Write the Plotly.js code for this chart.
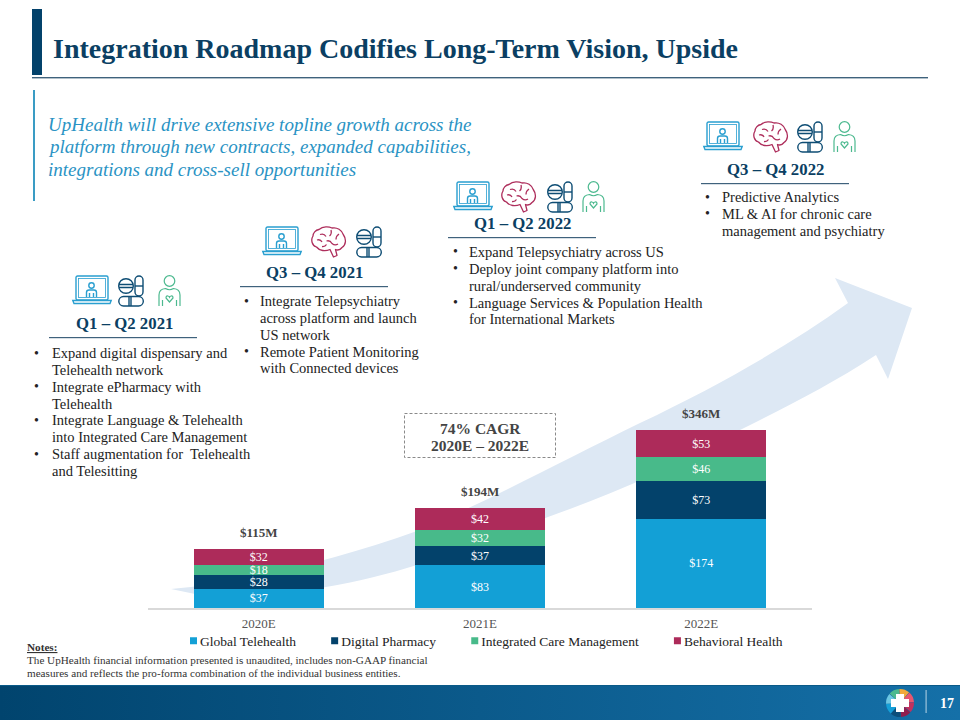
<!DOCTYPE html>
<html><head><meta charset="utf-8">
<script src="https://cdn.plot.ly/plotly-3.0.1.min.js"></script>
<style>
html,body{margin:0;padding:0;background:#fff;width:960px;height:720px;overflow:hidden}
#deco{position:absolute;left:0;top:0;z-index:0}
#chart{position:absolute;left:0;top:0;width:960px;height:720px;z-index:1}
</style></head><body>
<svg id="deco" width="960" height="720" viewBox="0 0 960 720"></svg>
<div id="chart"></div>
<script>
// ---- data ----
const years = ['2020E','2021E','2022E'];
const globalTelehealth = [37,83,174];
const digitalPharmacy = [28,37,73];
const integratedCare = [18,32,46];
const behavioralHealth = [32,42,53];
const totalLabels = ['$115M','$194M','$346M'];
const seriesNames = ['Global Telehealth','Digital Pharmacy','Integrated Care Management','Behavioral Health'];
const seriesColors = ['#13a0d6','#03426b','#48ba8a','#ad2b5a'];

const titleText = 'Integration Roadmap Codifies Long-Term Vision, Upside';
const introLines = ['UpHealth will drive extensive topline growth across the','platform through new contracts, expanded capabilities,','integrations and cross-sell opportunities'];
const noteLines = ['The UpHealth financial information presented is unaudited, includes non-GAAP financial','measures and reflects the pro-forma combination of the individual business entities.'];
const phaseLabels = ['Q1 – Q2 2021','Q3 – Q4 2021','Q1 – Q2 2022','Q3 – Q4 2022'];
const phaseLines = [
 [['•','Expand digital dispensary and'],['','Telehealth network'],['•','Integrate ePharmacy with'],['','Telehealth'],['•','Integrate Language & Telehealth'],['','into Integrated Care Management'],['•','Staff augmentation for  Telehealth'],['','and Telesitting']],
 [['•','Integrate Telepsychiatry'],['','across platform and launch'],['','US network'],['•','Remote Patient Monitoring'],['','with Connected devices']],
 [['•','Expand Telepsychiatry across US'],['•','Deploy joint company platform into'],['','rural/underserved community'],['•','Language Services & Population Health'],['','for International Markets']],
 [['•','Predictive Analytics'],['•','ML & AI for chronic care'],['','management and psychiatry']]
];
const cagrLines = ['74% CAGR','2020E – 2022E'];

// ---- layout geometry on the slide ----
const FONT = '"Liberation Serif", serif';
const W = 960, H = 720;
const fx = p => p / W, fy = p => 1 - p / H;
const phaseGeom = [
 {cx:124, ly:323, ux:[49,197],  bx:33,  tx:51,  y0:353, iconTop:275, icons:{laptop:72, pills:118, person:158}},
 {cx:314, ly:272, ux:[240,388], bx:243, tx:259, y0:301, iconTop:226, icons:{laptop:262, brain:311, pills:356}},
 {cx:522, ly:223, ux:[448,596], bx:452, tx:468, y0:252, iconTop:181, icons:{laptop:453, brain:501, pills:547, person:582}},
 {cx:775, ly:169, ux:[701,849], bx:704, tx:721, y0:197, iconTop:121, icons:{laptop:703, brain:753, pills:797, person:833}}
];

// ---- decoration (behind the transparent plot) ----
const iconSvg = {
 laptop:`<g fill="none" stroke="#2a9fd0" stroke-width="1.4"><rect x="4" y="1" width="32" height="24" rx="1.5"/><rect x="6.5" y="3.5" width="27" height="19" stroke-width=".8"/><path d="M0.8 25.5H39.2L38 28.5H2Z"/><circle cx="19.5" cy="10.5" r="2.7"/><path d="M14.5 22V17.5Q14.5 15 17 15H22Q24.5 15 24.5 17.5V22M17.5 18V22M21.5 18V22"/></g>`,
 brain:`<g fill="none" stroke="#ae2e5c" stroke-width="1.3" stroke-linejoin="round"><path d="M8 3.5C12 0 18 0.5 21 2C26 1 31 4 32.5 9C35.5 13 35 19 31 21.5C29.5 23.5 27 24.5 24.5 23.5L26 29.5L22.5 31L19 23.5C14.5 25.5 8.5 25 5.5 21C1 19.5 -0.5 14 2 10C2 7 4.5 4 8 3.5Z"/><path d="M9 8.5Q13 7 15 10.5M20 4Q21 8 18.5 10M28 8Q25 10 25 13.5M6 14Q9.5 13 11 16M15.5 15Q19 14 21 17.5Q24 20 27 18M11 20.5Q14 21 15.5 18.5"/></g>`,
 pills:`<g fill="none" stroke="#0e4d74" stroke-width="1.4"><circle cx="8" cy="11" r="7.3"/><path d="M1 9.5H15M1 12.5H15"/><rect x="17" y="1" width="8" height="20" rx="4"/><path d="M17 11H25"/><rect x="0.8" y="21.5" width="24.5" height="9.5" rx="4.7"/><path d="M13 21.5V31M11 21.5V31"/></g>`,
 person:`<g fill="none" stroke="#4cb98f" stroke-width="1.2"><circle cx="11.5" cy="6" r="5.3"/><path d="M1 31V20Q1 14 7.5 13.5Q11.5 16 15.5 13.5Q22 14 22 20V31M4.5 25V31M18.5 25V31"/><path d="M11.5 27L8 23Q8 20.5 10 21Q11 21.2 11.5 22.3Q12 21.2 13 21Q15 20.5 15 23Z"/></g>`
};
function wedge(cx,cy,r0,r1,a0,a1,c){
  const p=(r,a)=>[(cx+r*Math.cos(a)).toFixed(2),(cy+r*Math.sin(a)).toFixed(2)].join(' ');
  return `<path fill="${c}" d="M${p(r0,a0)}L${p(r1,a0)}A${r1} ${r1} 0 0 1 ${p(r1,a1)}L${p(r0,a1)}A${r0} ${r0} 0 0 0 ${p(r0,a0)}Z"/>`;
}
const wheelColors = ['#f2a93b','#e8566f','#c0315f','#8f1f4f','#0c4f7b','#159fd8','#6cc6e3','#4cb98f'];
let wheel = '';
wheelColors.forEach((c,i)=>{ const a=-Math.PI/2+i*Math.PI/4-0.05; wheel+=wedge(900,703,3,14,a,a+Math.PI/4-0.03,c); });
let deco = `
<defs><linearGradient id="foot" x1="0" x2="1" y1="0" y2="0"><stop offset="0" stop-color="#01446e"/><stop offset="1" stop-color="#1570a8"/></linearGradient></defs>
<rect x="32" y="9" width="10" height="66" fill="#03426b"/>
<rect x="32" y="77" width="896" height="1.4" fill="#3f627c"/>
<rect x="33" y="90" width="2" height="111" fill="#3a9cc4"/>
<path fill="#dde8f4" d="M171 589C240 583 330 562 417 531C480 505 560 462 640 423C720 385 790 345 848 303L835 278L912 308L888 379L876 355C830 385 790 405 740 430C680 465 610 495 548 517C480 545 400 575 326 587C280 595 230 597 195 594Z"/>
<rect x="404.5" y="413.5" width="151" height="44" fill="#fff" stroke="#8a8a8a" stroke-width="1" stroke-dasharray="3 2"/>
<rect x="0" y="685" width="960" height="35" fill="url(#foot)"/>
<rect x="0" y="685" width="960" height="1" fill="#0a5a88"/>
${wheel}
<path fill="#fff" d="M896 694H904V699H909V707H904V712H896V707H891V699H896Z"/>
<rect x="925.5" y="690" width="1.2" height="23" fill="#9cc4dc"/>`;
phaseGeom.forEach(g=>{
  deco += `<rect x="${g.ux[0]}" y="${g.ly+14}" width="${g.ux[1]-g.ux[0]}" height="1.2" fill="#3f627c"/>`;
  for (const k in g.icons) deco += `<g transform="translate(${g.icons[k]} ${g.iconTop})">${iconSvg[k]}</g>`;
});
document.getElementById('deco').innerHTML = deco;

// ---- text ----
const annos = [];
function txt(x,y,text,size,color,anchor){
  annos.push({xref:'paper',yref:'paper',x:fx(x),y:fy(y),text,showarrow:false,xanchor:anchor||'left',yanchor:'middle',
    align:anchor||'left',font:{family:FONT,size,color},borderpad:0});
}
txt(52,49,'<b>'+titleText+'</b>',28,'#0b3f63');
introLines.forEach((t,i)=>txt(47,[124,147,169][i],'<i>'+t+'</i>',19,'#2a93c4'));
phaseLabels.forEach((t,i)=>{
  const g=phaseGeom[i];
  txt(g.cx,g.ly,'<b>'+t+'</b>',16.8,'#0b3f63','center');
  let y=g.y0;
  phaseLines[i].forEach(([b,l])=>{
    if(b) txt(g.bx,y,b,14,'#222');
    txt(g.tx,y,l,14.5,'#222');
    y+=16.85;
  });
});
cagrLines.forEach((t,i)=>txt(480,[428,445][i],'<b>'+t+'</b>',15.5,'#444','center'));
txt(26,647,'<b><u>Notes:</u></b>',11.2,'#333');
noteLines.forEach((t,i)=>txt(26,[660,673][i],t,11.15,'#333'));
txt(939,703,'<b>17</b>',14,'#fff');

// totals above bars, from the data
const stackTotals = years.map((_,i)=>globalTelehealth[i]+digitalPharmacy[i]+integratedCare[i]+behavioralHealth[i]);
years.forEach((yr,i)=>annos.push({xref:'x',yref:'y',x:yr,y:stackTotals[i],text:'<b>'+totalLabels[i]+'</b>',showarrow:false,
  yanchor:'bottom',yshift:7,font:{family:FONT,size:13,color:'#444'}}));

// ---- chart ----
const allSeries=[globalTelehealth,digitalPharmacy,integratedCare,behavioralHealth];
const traces = allSeries.map((vals,i)=>({
  type:'bar',name:seriesNames[i],x:years,y:vals,marker:{color:seriesColors[i]},
  texttemplate:'$%{y}',textposition:'inside',insidetextanchor:'middle',textangle:0,
  insidetextfont:{family:FONT,size:12,color:'#fff'},hoverinfo:'name+y'
}));
const layout = {
  width:W,height:H,margin:{l:0,r:0,t:0,b:0,pad:0},autosize:false,
  paper_bgcolor:'rgba(0,0,0,0)',plot_bgcolor:'rgba(0,0,0,0)',
  barmode:'stack',bargap:0.413,uniformtext:{mode:'show',minsize:12},
  showlegend:true,
  legend:{orientation:'h',x:fx(160),y:fy(641),xanchor:'left',yanchor:'middle',traceorder:'normal',
    font:{family:FONT,size:13.5,color:'#222'},bgcolor:'rgba(0,0,0,0)'},
  xaxis:{domain:[fx(148),fx(812)],type:'category',categoryorder:'array',categoryarray:years,
    showline:true,linecolor:'#d9d9d9',linewidth:2,showgrid:false,ticks:'',zeroline:false,
    tickfont:{family:FONT,size:13,color:'#555'},ticklabelstandoff:2},
  yaxis:{domain:[1-608/H,1-402.5/H],range:[0,400],visible:false,showgrid:false,zeroline:false},
  annotations:annos,font:{family:FONT}
};
function tweakLegend(){
  document.querySelectorAll('#chart .legend .legendpoints path').forEach(p=>{
    p.setAttribute('d','M3.5,3.5H-3.5V-3.5H3.5Z');
    p.setAttribute('transform','translate(33.5,0)');
  });
}
Plotly.newPlot('chart',traces,layout,{displayModeBar:false,responsive:false}).then(gd=>{
  tweakLegend(); gd.on('plotly_afterplot',tweakLegend);
});
</script>
</body></html>
